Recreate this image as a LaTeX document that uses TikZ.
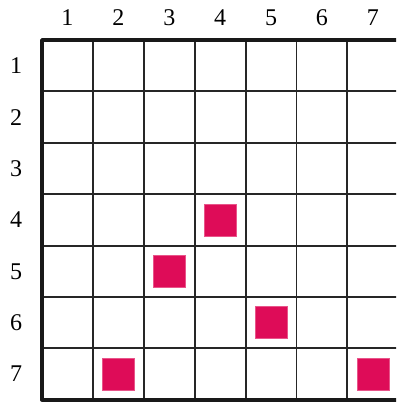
\documentclass[tikz,border=0pt]{standalone}
\usepackage{fontspec}
\setmainfont{Liberation Serif}
\definecolor{mark}{RGB}{222,12,88}
\tikzset{
  lbl/.style={font=\fontsize{24}{24}\selectfont, inner sep=0pt},
  cellmark/.style={fill=mark, draw=mark!70!white, line width=0.6pt, minimum size=32pt, inner sep=0pt},
  gridline/.style={line width=1.9pt, black!85},
  border/.style={line width=3.6pt, black!90}
}
\begin{document}
\begin{tikzpicture}[x=1pt,y=-1pt]
\useasboundingbox (0,0) rectangle (396,403);
\clip (0,0) rectangle (396,403);
\def\xa{42}\def\cw{50.9}\def\ya{40}\def\ch{51.4}
% internal grid lines
\foreach \i in {1,...,6} {
  \draw[gridline] ({\xa+\i*\cw},\ya) -- ({\xa+\i*\cw},{\ya+7*\ch});
  \draw[gridline] (\xa,{\ya+\i*\ch}) -- ({\xa+7*\cw},{\ya+\i*\ch});
}
% outer border (right side lies beyond the page)
\draw[border, line join=round] ({\xa+7*\cw+10},\ya) -- (\xa,\ya) -- (\xa,{\ya+7*\ch}) -- ({\xa+7*\cw+10},{\ya+7*\ch});
% labels
\foreach \i in {1,...,7} {
  \node[lbl] (c\i) at ({\xa+(\i-0.5)*\cw},18) {\i};
  \node[lbl] (r\i) at (16,{\ya+(\i-0.5)*\ch}) {\i};
}
% marks (row,col)
\foreach \r/\c in {4/4,5/3,6/5,7/2,7/7} {
  \node[cellmark] (m\r\c) at ({\xa+(\c-0.5)*\cw},{\ya+(\r-0.5)*\ch}) {};
}
\end{tikzpicture}
\end{document}
